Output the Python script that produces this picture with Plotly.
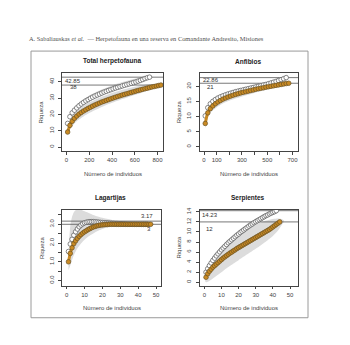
import plotly.graph_objects as go

W, H = 350, 345

# ---------------- DATA ----------------
header_text = "A. Sabaliauskas <i>et al.</i>  — Herpetofauna en una reserva en Comandante Andresito, Misiones"
titles = ["Total herpetofauna", "Anfibios", "Lagartijas", "Serpientes"]
x_label = "Número de individuos"
y_label = "Riqueza"

# Total herpetofauna
tot_obs_x = [10, 30, 50, 70, 90, 110, 130, 150, 170, 190, 210, 230, 250, 270, 290, 310, 330, 350, 370, 390,
             410, 430, 450, 470, 490, 510, 530, 550, 570, 590, 610, 630, 650, 670, 690, 710, 730, 750, 770, 790, 810, 830]
tot_obs_y = [9.2, 13.3, 15.8, 17.6, 19.0, 20.2, 21.2, 22.1, 22.9, 23.7, 24.4, 25.1, 25.8, 26.4, 27.0, 27.6, 28.1, 28.6, 29.1, 29.6,
             30.1, 30.55, 31.0, 31.45, 31.9, 32.3, 32.7, 33.1, 33.5, 33.9, 34.3, 34.7, 35.05, 35.4, 35.75, 36.1, 36.45, 36.8, 37.1, 37.4, 37.7, 38.0]
tot_est_x = [10, 30, 50, 70, 90, 110, 130, 150, 170, 190, 210, 230, 250, 270, 290, 310, 330, 350, 370, 390,
             410, 430, 450, 470, 490, 510, 530, 550, 570, 590, 610, 630, 650, 670, 690, 710, 730]
tot_est_y = [14.5, 18.6, 21.0, 22.6, 24.0, 25.3, 26.4, 27.4, 28.3, 29.1, 29.9, 30.6, 31.3, 31.9, 32.5, 33.1, 33.7, 34.2, 34.7, 35.2,
             35.7, 36.2, 36.6, 37.0, 37.5, 37.9, 38.3, 38.7, 39.1, 39.5, 39.9, 40.4, 40.9, 41.4, 42.0, 42.5, 42.85]
tot_band_obs_x = [10, 30, 50, 75, 100, 150, 200, 300, 400, 500, 600, 700, 780, 830]
tot_band_obs_lo = [7.0, 10.6, 12.8, 14.9, 16.4, 18.8, 20.8, 24.2, 27.1, 29.6, 31.9, 34.2, 36.3, 38.0]
tot_band_obs_hi = [11.4, 16.0, 18.8, 21.0, 22.6, 25.3, 27.4, 30.6, 33.2, 35.3, 37.0, 38.4, 38.6, 38.0]
tot_band_est_x = [10, 30, 50, 100, 200, 300, 400, 500, 600, 700, 730]
tot_band_est_lo = [13.0, 17.2, 19.6, 23.6, 28.9, 32.4, 35.2, 37.6, 39.7, 41.7, 42.6]
tot_band_est_hi = [15.8, 19.9, 22.3, 26.4, 31.6, 35.0, 37.8, 40.0, 41.9, 43.3, 43.1]
tot_ref = [42.85, 38]

# Anfibios
anf_obs_x = [10, 30, 50, 70, 90, 110, 130, 150, 170, 190, 210, 230, 250, 270, 290, 310, 330, 350, 370, 390,
             410, 430, 450, 470, 490, 510, 530, 550, 570, 590, 610, 630, 650, 670]
anf_obs_y = [7.7, 11.2, 12.6, 13.5, 14.2, 14.8, 15.3, 15.75, 16.1, 16.45, 16.75, 17.05, 17.3, 17.55, 17.8, 18.0, 18.2, 18.4, 18.6, 18.8,
             19.0, 19.2, 19.35, 19.5, 19.7, 19.85, 20.0, 20.15, 20.3, 20.45, 20.6, 20.75, 20.9, 21.0]
anf_est_x = [10, 30, 50, 70, 90, 110, 130, 150, 170, 190, 210, 230, 250, 270, 290, 310, 330, 350, 370, 390,
             410, 430, 450, 470, 490, 510, 530, 550, 570, 590, 610, 630, 650]
anf_est_y = [10.2, 12.9, 14.2, 15.0, 15.6, 16.1, 16.5, 16.85, 17.15, 17.45, 17.7, 17.95, 18.2, 18.4, 18.6, 18.8, 19.0, 19.2, 19.4, 19.6,
             19.8, 20.0, 20.2, 20.4, 20.6, 20.85, 21.1, 21.35, 21.6, 21.9, 22.2, 22.5, 22.86]
anf_band_obs_x = [10, 30, 50, 75, 100, 150, 200, 300, 400, 500, 600, 670]
anf_band_obs_lo = [6.0, 9.6, 11.1, 12.2, 13.0, 14.3, 15.2, 16.6, 17.8, 18.9, 20.0, 21.0]
anf_band_obs_hi = [9.3, 12.7, 14.0, 14.9, 15.5, 16.6, 17.4, 18.6, 19.6, 20.4, 20.9, 21.0]
anf_band_est_x = [10, 30, 50, 100, 200, 300, 400, 500, 600, 650]
anf_band_est_lo = [9.2, 12.0, 13.4, 15.1, 16.9, 18.0, 19.0, 20.0, 21.4, 22.5]
anf_band_est_hi = [11.2, 13.8, 15.0, 16.6, 18.3, 19.4, 20.4, 21.4, 22.7, 23.2]
anf_ref = [22.86, 21]

# Lagartijas
lag_obs_x = list(range(1, 48))
lag_obs_y = [1.0, 1.45, 1.75, 1.97, 2.12, 2.25, 2.36, 2.45, 2.53, 2.6, 2.66, 2.72, 2.77, 2.82, 2.86, 2.89, 2.92, 2.94, 2.96, 2.97,
             2.98, 2.99, 2.99, 3.0, 3.0, 3.0, 3.0, 3.0, 3.0, 3.0, 3.0, 3.0, 3.0, 3.0, 3.0, 3.0, 3.0, 3.0, 3.0, 3.0,
             3.0, 3.0, 3.0, 3.0, 3.0, 3.0, 3.0]
lag_est_x = list(range(1, 46))
lag_est_y = [1.55, 1.95, 2.2, 2.42, 2.6, 2.75, 2.87, 2.96, 3.03, 3.08, 3.11, 3.13, 3.14, 3.14, 3.14, 3.13, 3.12, 3.11, 3.1, 3.09,
             3.08, 3.07, 3.06, 3.05, 3.045, 3.04, 3.035, 3.03, 3.025, 3.02, 3.018, 3.015, 3.012, 3.01, 3.008, 3.006, 3.005, 3.004, 3.003, 3.002,
             3.0, 3.0, 3.0, 3.0, 3.0]
lag_band_x = [1, 2, 3, 4, 5, 6, 8, 10, 13, 16, 20, 25, 30, 35, 40, 45, 47]
lag_band_lo = [0.55, 0.8, 1.1, 1.35, 1.55, 1.72, 1.98, 2.18, 2.4, 2.58, 2.75, 2.88, 2.95, 2.98, 3.0, 3.0, 3.0]
lag_band_hi = [1.6, 2.9, 3.4, 3.65, 3.75, 3.8, 3.78, 3.7, 3.58, 3.46, 3.35, 3.25, 3.18, 3.12, 3.06, 3.02, 3.0]
lag_ref = [3.17, 3]

# Serpientes
ser_obs_x = list(range(1, 45))
ser_obs_y = [1.0, 1.7, 2.2, 2.6, 3.0, 3.3, 3.6, 3.9, 4.2, 4.5, 4.8, 5.05, 5.3, 5.55, 5.8, 6.0, 6.25, 6.45, 6.7, 6.9,
             7.1, 7.3, 7.5, 7.7, 7.9, 8.1, 8.3, 8.5, 8.7, 8.9, 9.1, 9.3, 9.5, 9.7, 9.9, 10.1, 10.3, 10.5, 10.75, 11.0,
             11.25, 11.5, 11.75, 12.0]
ser_est_x = list(range(1, 43))
ser_est_y = [2.0, 2.7, 3.3, 3.85, 4.35, 4.8, 5.25, 5.65, 6.05, 6.45, 6.8, 7.15, 7.5, 7.85, 8.15, 8.45, 8.75, 9.05, 9.35, 9.6,
             9.9, 10.15, 10.4, 10.65, 10.9, 11.15, 11.4, 11.6, 11.85, 12.05, 12.25, 12.45, 12.65, 12.85, 13.05, 13.25, 13.4, 13.6, 13.75, 13.9,
             14.05, 14.23]
ser_band_obs_x = [0.5, 1, 2, 4, 6, 8, 10, 13, 16, 20, 24, 28, 32, 36, 40, 43, 45, 46.5]
ser_band_obs_lo = [0.2, 0.0, 0.1, 0.5, 1.0, 1.5, 2.0, 2.8, 3.5, 4.4, 5.3, 6.2, 7.1, 8.1, 9.2, 10.3, 11.3, 12.1]
ser_band_obs_hi = [0.9, 2.0, 3.2, 4.6, 5.6, 6.4, 7.1, 8.0, 8.8, 9.7, 10.5, 11.2, 11.8, 12.3, 12.6, 12.7, 12.6, 12.3]
ser_band_est_x = [1, 5, 10, 15, 20, 25, 30, 35, 40, 42]
ser_band_est_lo = [1.65, 4.0, 6.1, 7.8, 9.25, 10.55, 11.7, 12.7, 13.55, 13.9]
ser_band_est_hi = [2.35, 4.7, 6.8, 8.5, 9.95, 11.25, 12.4, 13.4, 14.25, 14.5]
ser_ref = [14.23, 12]

# Ticks
tot_xticks = [0, 200, 400, 600, 800]
tot_yticks = [0, 10, 20, 30, 40]
anf_xticks = [0, 100, 200, 300, 400, 500, 600, 700]
anf_xticklabels = ["0", "100", "", "300", "", "500", "", "700"]
anf_yticks = [0, 5, 10, 15, 20]
lag_xticks = [0, 10, 20, 30, 40, 50]
lag_yticks = [0, 0.5, 1.0, 1.5, 2.0, 2.5, 3.0, 3.5]
lag_yticklabels = ["0.0", "", "1.0", "", "2.0", "", "3.0", ""]
ser_xticks = [0, 10, 20, 30, 40, 50]
ser_yticks = [0, 2, 4, 6, 8, 10, 12, 14]

# ---------------- STYLE / LAYOUT ----------------
ORANGE = "#C98A24"
ORANGE_EDGE = "#6a5122"
BAND = "#dcdcdc"
AX = "#444444"
FONT = "Liberation Sans"

def px(x): return x / W
def py(y): return 1 - y / H

panels = [
    dict(box=(62, 163, 70.5, 149.5), xr=[-39.6, 848.4], yr=[-2.55, 45.47],
         obs=(tot_obs_x, tot_obs_y), est=(tot_est_x, tot_est_y),
         bands=[(tot_band_obs_x, tot_band_obs_lo, tot_band_obs_hi), (tot_band_est_x, tot_band_est_lo, tot_band_est_hi)],
         ref=tot_ref, labpos=[(60, 40.3), (60, 37.0)],
         xt=tot_xticks, xtl=[str(v) for v in tot_xticks], yt=tot_yticks, ytl=[str(v) for v in tot_yticks]),
    dict(box=(199.5, 298, 71, 149.5), xr=[-35.6, 743.5], yr=[-1.48, 24.26],
         obs=(anf_obs_x, anf_obs_y), est=(anf_est_x, anf_est_y),
         bands=[(anf_band_obs_x, anf_band_obs_lo, anf_band_obs_hi), (anf_band_est_x, anf_band_est_lo, anf_band_est_hi)],
         ref=anf_ref, labpos=[(54, 22.0), (54, 19.9)],
         xt=anf_xticks, xtl=anf_xticklabels, yt=anf_yticks, ytl=[str(v) for v in anf_yticks]),
    dict(box=(62, 161, 208.5, 285), xr=[-2.63, 52.8], yr=[-0.265, 3.78],
         obs=(lag_obs_x, lag_obs_y), est=(lag_est_x, lag_est_y),
         bands=[(lag_band_x, lag_band_lo, lag_band_hi)],
         ref=lag_ref, labpos=[(44.8, 3.42), (46, 2.76)],
         xt=lag_xticks, xtl=[str(v) for v in lag_xticks], yt=lag_yticks, ytl=lag_yticklabels),
    dict(box=(199.5, 298, 208.5, 285), xr=[-2.8, 54.67], yr=[-0.65, 14.43],
         obs=(ser_obs_x, ser_obs_y), est=(ser_est_x, ser_est_y),
         bands=[(ser_band_obs_x, ser_band_obs_lo, ser_band_obs_hi), (ser_band_est_x, ser_band_est_lo, ser_band_est_hi)],
         ref=ser_ref, labpos=[(3.3, 13.35), (3.3, 10.65)],
         xt=ser_xticks, xtl=[str(v) for v in ser_xticks], yt=ser_yticks, ytl=[str(v) for v in ser_yticks]),
]

fig = go.Figure()
annotations = []
shapes = []
layout = {}

for i, p in enumerate(panels):
    n = i + 1
    xa = "x" if n == 1 else f"x{n}"
    ya = "y" if n == 1 else f"y{n}"
    x0, x1, y0, y1 = p["box"]
    # bands
    for bx, lo, hi in p["bands"]:
        fig.add_trace(go.Scatter(x=list(bx) + list(bx)[::-1], y=list(hi) + list(lo)[::-1],
                                 fill="toself", fillcolor=BAND, mode="lines",
                                 line=dict(width=0, color=BAND, shape="spline", smoothing=0.6),
                                 hoverinfo="skip", showlegend=False, xaxis=xa, yaxis=ya))
    # reference lines
    for r in p["ref"]:
        fig.add_trace(go.Scatter(x=p["xr"], y=[r, r], mode="lines",
                                 line=dict(color="#555555", width=0.8),
                                 showlegend=False, hoverinfo="skip", xaxis=xa, yaxis=ya))
    # estimator curve (open circles)
    fig.add_trace(go.Scatter(x=p["est"][0], y=p["est"][1], mode="lines+markers",
                             line=dict(color="white", width=3, shape="spline"),
                             marker=dict(size=4.6, color="white", line=dict(color="#555555", width=0.7)),
                             showlegend=False, xaxis=xa, yaxis=ya))
    # observed rarefaction (orange)
    fig.add_trace(go.Scatter(x=p["obs"][0], y=p["obs"][1], mode="lines+markers",
                             line=dict(color=ORANGE, width=3, shape="spline"),
                             marker=dict(size=4.6, color=ORANGE, line=dict(color=ORANGE_EDGE, width=0.7)),
                             showlegend=False, xaxis=xa, yaxis=ya))
    # labels of reference values
    for r, (lx, ly) in zip(p["ref"], p["labpos"]):
        annotations.append(dict(x=lx, y=ly, xref=xa, yref=ya, text=f"{r:g}", showarrow=False,
                                xanchor="center", yanchor="middle",
                                font=dict(family=FONT, size=6, color="#333333")))
    axcommon = dict(showline=True, mirror=True, linecolor=AX, linewidth=0.8, ticks="outside",
                    ticklen=3, tickwidth=0.7, tickcolor=AX, showgrid=False, zeroline=False,
                    tickfont=dict(family=FONT, size=6, color="#444444"), fixedrange=True)
    layout["xaxis" if n == 1 else f"xaxis{n}"] = dict(
        axcommon, domain=[px(x0), px(x1)], range=p["xr"], anchor=ya,
        tickmode="array", tickvals=p["xt"], ticktext=p["xtl"])
    layout["yaxis" if n == 1 else f"yaxis{n}"] = dict(
        axcommon, domain=[py(y1), py(y0)], range=p["yr"], anchor=xa,
        tickmode="array", tickvals=p["yt"], ticktext=p["ytl"], tickangle=-90,
        ticklabelstandoff=2)
    # title
    annotations.append(dict(x=px((x0 + x1) / 2 - 1), y=py(y0 - 11.5), xref="paper", yref="paper",
                            xanchor="center", yanchor="middle",
                            text=f"<b>{titles[i]}</b>", showarrow=False,
                            font=dict(family=FONT, size=6.5, color="#222222")))
    # x title
    annotations.append(dict(x=px((x0 + x1) / 2), y=py(y1 + 22.5), xref="paper", yref="paper",
                            xanchor="center", yanchor="middle",
                            text=x_label, showarrow=False,
                            font=dict(family=FONT, size=6, color="#444444")))
    # y title
    annotations.append(dict(x=px(x0 - 20.5), y=py((y0 + y1) / 2), xref="paper", yref="paper",
                            xanchor="center", yanchor="middle",
                            text=y_label, showarrow=False, textangle=-90,
                            font=dict(family=FONT, size=6, color="#444444")))

# header
annotations.append(dict(x=px(27), y=py(36), xref="paper", yref="paper", xanchor="left", yanchor="middle",
                        text=header_text, showarrow=False,
                        font=dict(family="Liberation Serif", size=6.4, color="#505050")))
# outer frame
shapes.append(dict(type="rect", xref="paper", yref="paper", x0=px(31), x1=px(308), y0=py(317.5), y1=py(48.5),
                   line=dict(color="#9a9a9a", width=1)))

fig.update_layout(width=W, height=H, margin=dict(l=0, r=0, t=0, b=0),
                  paper_bgcolor="white", plot_bgcolor="white",
                  annotations=annotations, shapes=shapes, showlegend=False, **layout)

fig.write_html("out.html")
